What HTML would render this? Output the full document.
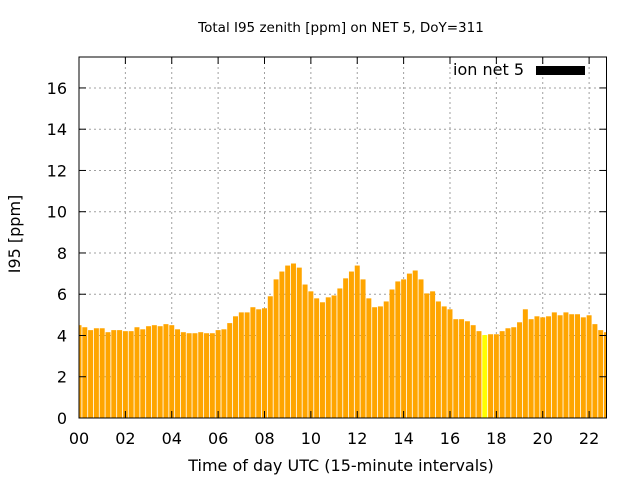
<!DOCTYPE html>
<html><head><meta charset="utf-8"><style>
body{margin:0;background:#fff}
svg text{font-family:"DejaVu Sans","Liberation Sans",sans-serif;fill:#000}
</style></head><body>
<svg id="c" width="640" height="480" xmlns="http://www.w3.org/2000/svg">
<text x="341" y="32" font-size="13.5" text-anchor="middle">Total I95 zenith [ppm] on NET 5, DoY=311</text>
<g id="grid"></g><g id="bars"></g><g id="axes"></g>
<text x="341" y="471" font-size="16" text-anchor="middle">Time of day UTC (15-minute intervals)</text>
<text transform="translate(20,234) rotate(-90)" font-size="16" text-anchor="middle">I95 [ppm]</text>
<g>
<text x="524" y="75" font-size="16" text-anchor="end">ion net 5</text>
<rect x="536" y="66" width="49" height="9" fill="#000"/>
</g>
</svg>
<script>
const values=[4.5,4.4,4.26,4.35,4.35,4.16,4.26,4.26,4.21,4.21,4.4,4.3,4.45,4.5,4.45,4.55,4.5,4.3,4.16,4.11,4.11,4.16,4.11,4.11,4.26,4.3,4.6,4.93,5.12,5.12,5.37,5.27,5.32,5.9,6.72,7.1,7.39,7.49,7.29,6.47,6.14,5.8,5.61,5.85,5.94,6.28,6.77,7.1,7.39,6.72,5.8,5.37,5.41,5.65,6.23,6.62,6.72,7.0,7.15,6.72,6.04,6.14,5.65,5.41,5.27,4.79,4.79,4.69,4.5,4.21,4.02,4.06,4.06,4.21,4.35,4.4,4.64,5.27,4.79,4.93,4.88,4.93,5.12,4.98,5.12,5.03,5.03,4.88,4.98,4.55,4.26,4.16];
const highlightIndex=[70];
const yTicks=[0,2,4,6,8,10,12,14,16];
const xTicks=[0,2,4,6,8,10,12,14,16,18,20,22];
const L=79,R=606.5,T=57,B=418,XMAX=22.75,YMAX=17.5;
const sx=h=>L+h*(R-L)/XMAX, sy=v=>B-v*(B-T)/YMAX;
const NS="http://www.w3.org/2000/svg";
function mk(t,a,p){const e=document.createElementNS(NS,t);for(const k in a)e.setAttribute(k,a[k]);p.appendChild(e);return e;}
const grid=document.getElementById('grid'),bars=document.getElementById('bars'),axes=document.getElementById('axes');
yTicks.forEach(v=>{
 if(v>0){const g=mk('line',{x1:L,x2:R,y1:sy(v),y2:sy(v),stroke:'#a0a0a0','stroke-dasharray':'2,3'},grid);
 
 }
 const t=mk('text',{x:L-12,y:sy(v)+6,'font-size':16,'text-anchor':'end'},axes);t.textContent=v;
 
 
 mk('line',{x1:L,x2:L+7,y1:sy(v),y2:sy(v),stroke:'#000'},axes);
 mk('line',{x1:R,x2:R-7,y1:sy(v),y2:sy(v),stroke:'#000'},axes);
});
xTicks.forEach(h=>{
 if(h>0){const g=mk('line',{x1:sx(h),x2:sx(h),y1:T,y2:B,stroke:'#a0a0a0','stroke-dasharray':'2,3'},grid);
 
 }
 const t=mk('text',{x:sx(h),y:444,'font-size':16,'text-anchor':'middle'},axes);t.textContent=String(h).padStart(2,'0');
 
 
 mk('line',{x1:sx(h),x2:sx(h),y1:B,y2:B-7,stroke:'#000'},axes);
 mk('line',{x1:sx(h),x2:sx(h),y1:T,y2:T+7,stroke:'#000'},axes);
});
const pitch=(R-L)/XMAX*0.25,bw=pitch*0.86;
values.forEach((v,i)=>{
 let x0=sx(i*0.25)-bw/2,x1=x0+bw;x0=Math.max(x0,L);x1=Math.min(x1,R);
 if(x1<=x0)return;
 const r=mk('rect',{x:x0,y:sy(v),width:x1-x0,height:B-sy(v),fill:highlightIndex.includes(i)?'#ffff00':'#ffa500'},bars);
 
 
});
const f=mk('rect',{x:L,y:T,width:R-L,height:B-T,fill:'none',stroke:'#000','stroke-width':1},axes);


</script>
</body></html>
